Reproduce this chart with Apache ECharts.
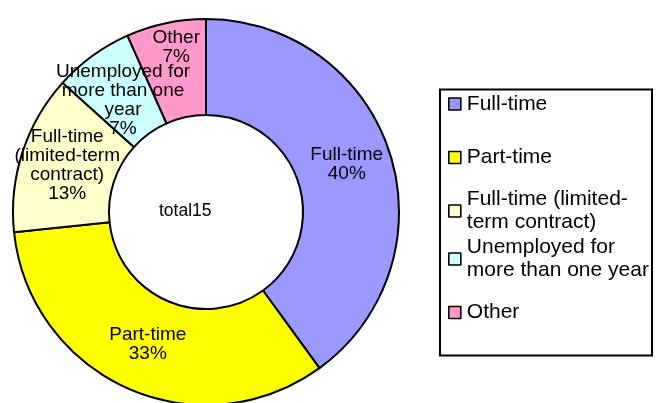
<!DOCTYPE html>
<html>
<head>
<meta charset="utf-8">
<script src="https://cdn.jsdelivr.net/npm/echarts@6/dist/echarts.min.js"></script>
<style>
  html, body { margin: 0; padding: 0; background: #fff; }
  #chart { width: 661px; height: 403px; }
</style>
</head>
<body>
<div id="chart"></div>
<script>
// Employment status breakdown (counts)
var categories = [
  'Full-time',
  'Part-time',
  'Full-time (limited-term contract)',
  'Unemployed for more than one year',
  'Other'
];
var counts = [6, 5, 2, 1, 1];
// wrapped text used inside the ring
var sliceLabels = [
  'Full-time',
  'Part-time',
  'Full-time\n(limited-term\ncontract)',
  'Unemployed for\nmore than one\nyear',
  'Other'
];
// wrapped text used in the legend
var legendLabels = [
  'Full-time',
  'Part-time',
  'Full-time (limited-\nterm contract)',
  'Unemployed for\nmore than one year',
  'Other'
];

var colors = ['#9999FF', '#FFFF00', '#FFFFCC', '#CCFFFF', '#FF99CC'];
var FONT = "'Liberation Sans', Arial, sans-serif";

// small nudges of individual ring labels
var labelNudge = [[0, -1.5], [2, -3], [2, -1], [4, 8], [1, -20]];
// vertical centre of each legend row's first line
var legendRowY = [104, 157.5, 211, 259, 312.5];

var total = counts.reduce(function (a, b) { return a + b; }, 0);

var pieData = categories.map(function (name, i) {
  return {
    name: name,
    value: counts[i],
    itemStyle: { color: colors[i] },
    label: { offset: labelNudge[i] }
  };
});

var LEGEND_LH = 23;
var legends = categories.map(function (name, i) {
  var lines = legendLabels[i].split('\n').length;
  var extra = (lines - 1) * LEGEND_LH;
  return {
    show: true,
    orient: 'vertical',
    left: 448,
    top: legendRowY[i] - 11.5 - extra,
    padding: 0,
    itemWidth: 12,
    itemHeight: 12,
    icon: 'rect',
    selectedMode: false,
    itemStyle: { borderColor: '#000', borderWidth: 1.6 },
    data: [{
      name: name,
      textStyle: { padding: [extra, 0, 0, 1] }
    }],
    formatter: function () { return legendLabels[i]; },
    textStyle: {
      fontFamily: FONT,
      fontSize: 21,
      lineHeight: LEGEND_LH,
      color: '#000'
    }
  };
});

var chart = echarts.init(document.getElementById('chart'), null, { renderer: 'canvas' });
chart.setOption({
  animation: false,
  backgroundColor: '#fff',
  legend: legends,
  graphic: [
    {
      type: 'rect',
      shape: { x: 440, y: 89.5, width: 212, height: 266 },
      style: { fill: 'none', stroke: '#000', lineWidth: 2 },
      z: 0
    },
    {
      type: 'text',
      left: 159,
      top: 212 - 10,
      style: {
        text: 'total' + total,
        font: '17.5px ' + FONT,
        fill: '#000'
      },
      z: 10
    }
  ],
  series: [{
    type: 'pie',
    center: [206, 212],
    radius: [97, 193],
    startAngle: 90,
    clockwise: true,
    percentPrecision: 0,
    avoidLabelOverlap: false,
    emphasis: { disabled: true },
    itemStyle: { borderColor: '#000', borderWidth: 2 },
    labelLayout: { hideOverlap: false },
    label: {
      show: true,
      position: 'inside',
      fontFamily: FONT,
      fontSize: 19,
      lineHeight: 19,
      color: '#000',
      formatter: function (p) {
        return sliceLabels[p.dataIndex] + '\n' + p.percent + '%';
      }
    },
    labelLine: { show: false },
    data: pieData
  }]
});
</script>
</body>
</html>
